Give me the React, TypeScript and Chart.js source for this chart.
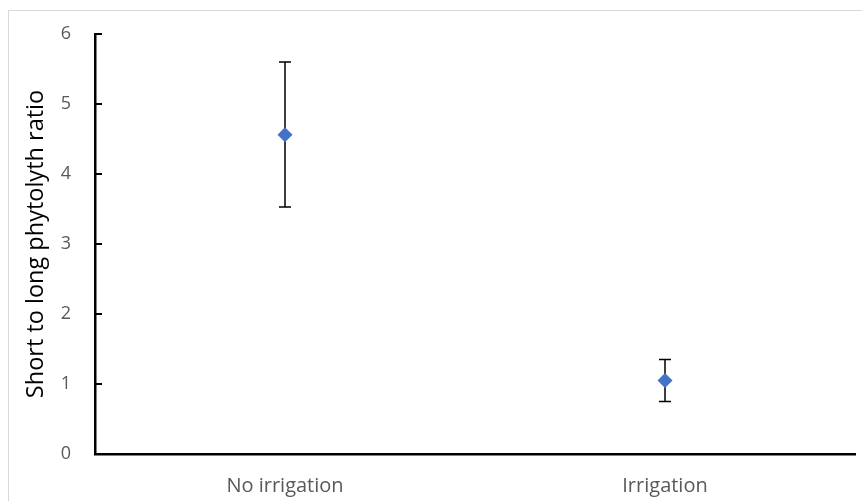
import React, { useEffect, useRef } from "react";
import { Chart, registerables } from "chart.js";

Chart.register(...registerables);

const categories = ["No irrigation", "Irrigation"];
const means = [4.56, 1.05];
const errPlus = [1.04, 0.3];
const errMinus = [1.03, 0.3];
const yTicks = [0, 1, 2, 3, 4, 5, 6];
const yTitle = "Short to long phytolyth ratio";

const FONT = "'Open Sans', 'Liberation Sans', sans-serif";

const errorBarPlugin = {
  id: "errorBars",
  beforeDatasetsDraw(chart: any) {
    const ctx = chart.ctx;
    const x = chart.scales.x;
    const y = chart.scales.y;
    ctx.save();
    ctx.strokeStyle = "#000000";
    ctx.lineWidth = 1.5;
    means.forEach((m, i) => {
      const px = x.getPixelForValue(i);
      const top = y.getPixelForValue(m + errPlus[i]);
      const bot = y.getPixelForValue(m - errMinus[i]);
      ctx.beginPath();
      ctx.moveTo(px, top);
      ctx.lineTo(px, bot);
      ctx.moveTo(px - 6, top);
      ctx.lineTo(px + 6, top);
      ctx.moveTo(px - 6, bot);
      ctx.lineTo(px + 6, bot);
      ctx.stroke();
    });
    ctx.restore();
  },
  afterDraw(chart: any) {
    const ctx = chart.ctx;
    const y = chart.scales.y;
    ctx.save();
    ctx.strokeStyle = "#000000";
    ctx.lineWidth = 2;
    yTicks.forEach((v) => {
      if (v === 0) return;
      const py = Math.round(y.getPixelForValue(v));
      ctx.beginPath();
      ctx.moveTo(y.right, py);
      ctx.lineTo(y.right + 7, py);
      ctx.stroke();
    });
    ctx.restore();
  },
};

export default function App() {
  const ref = useRef<HTMLCanvasElement | null>(null);
  useEffect(() => {
    if (!ref.current) return;
    const chart = new Chart(ref.current, {
      type: "line",
      data: {
        labels: categories,
        datasets: [
          {
            data: means,
            showLine: false,
            pointStyle: "rectRot",
            pointRadius: 7.5,
            pointHoverRadius: 7.5,
            backgroundColor: "#4472C4",
            borderColor: "#4472C4",
            borderWidth: 0,
          },
        ],
      },
      options: {
        animation: false,
        responsive: false,
        events: [],
        layout: { padding: { top: 23, right: 14, left: 0, bottom: 0 } },
        plugins: {
          legend: { display: false },
          tooltip: { enabled: false },
        },
        scales: {
          x: {
            type: "category",
            offset: true,
            grid: { display: false, drawTicks: false },
            border: { display: true, color: "#000000", width: 2.5 },
            ticks: {
              color: "#595959",
              font: { family: FONT, size: 20 },
              padding: 20,
              maxRotation: 0,
            },
            afterFit(scale: any) {
              scale.height = 47;
            },
          },
          y: {
            type: "linear",
            min: 0,
            max: 6,
            grid: { display: false, drawTicks: false },
            border: { display: true, color: "#000000", width: 2.5 },
            afterBuildTicks(scale: any) {
              scale.ticks = yTicks.map((v) => ({ value: v }));
            },
            ticks: {
              color: "#595959",
              font: { family: FONT, size: 18 },
              padding: 24,
            },
            title: {
              display: true,
              text: yTitle,
              color: "#000000",
              font: { family: FONT, size: 23.5 },
              padding: { top: 13, bottom: 0 },
            },
            afterFit(scale: any) {
              scale.width = 86;
              scale.paddingTop = 0;
              scale.paddingBottom = 0;
            },
          },
        },
      },
      plugins: [errorBarPlugin],
    } as any);
    return () => chart.destroy();
  }, []);
  return (
    <div
      style={{
        position: "absolute",
        left: 8,
        top: 10,
        width: 880,
        height: 500,
        border: "1px solid #d9d9d9",
        boxSizing: "border-box",
        background: "#ffffff",
      }}
    >
      <canvas ref={ref} width={860} height={490} style={{ display: "block" }} />
    </div>
  );
}
